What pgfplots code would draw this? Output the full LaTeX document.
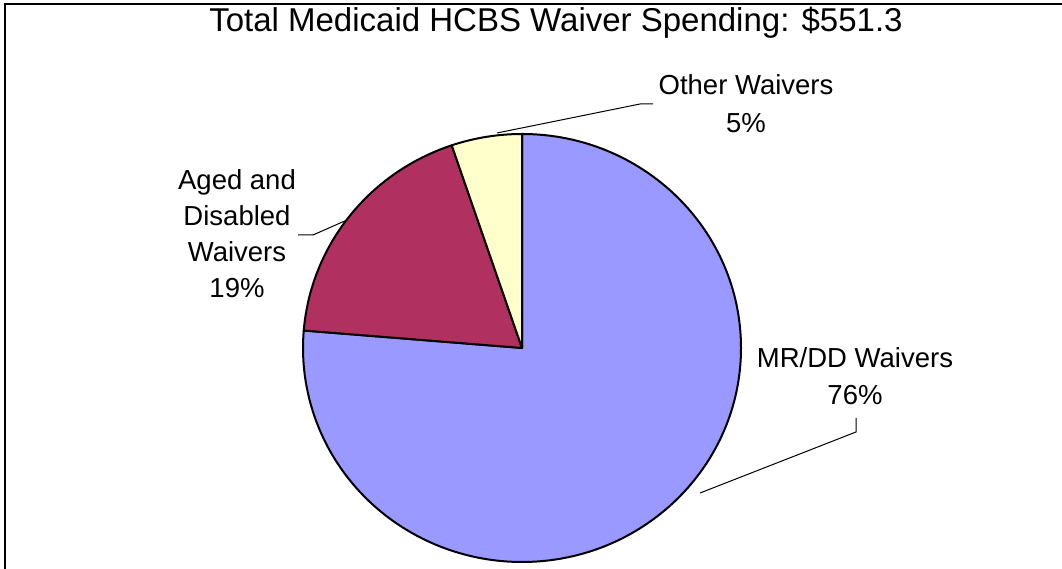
\documentclass[border=0pt]{standalone}
\usepackage{pgfplots}
\pgfplotsset{compat=1.18}
\usepackage{pgfplotstable}
\usepackage{fontspec}
\setmainfont{Liberation Sans}
\definecolor{mrdd}{HTML}{9999FF}
\definecolor{aged}{HTML}{B03060}
\definecolor{other}{HTML}{FFFFCC}

\pgfplotstableread{
label value
MRDD 76.3
Aged 18.5
Other 5.2
}\piedata

\begin{document}
\begin{tikzpicture}[x=1pt,y=1pt]
\useasboundingbox (0,0) rectangle (1062,569);
\pgfplotstablegetelem{0}{value}\of\piedata \let\va\pgfplotsretval
\pgfplotstablegetelem{1}{value}\of\piedata \let\vb\pgfplotsretval
\pgfplotstablegetelem{2}{value}\of\piedata \let\vc\pgfplotsretval
\pgfmathsetmacro\aA{90}
\pgfmathsetmacro\aB{90-3.6*\va}
\pgfmathsetmacro\aC{\aB-3.6*\vb}
\pgfmathsetmacro\aD{\aC-3.6*\vc}
\begin{axis}[scale only axis, width=1062pt, height=569pt,
  xmin=0, xmax=1062, ymin=0, ymax=569, hide axis, clip=false]
  \filldraw[fill=mrdd, draw=black, line width=2pt, line join=round]
    (axis cs:522,221) -- ++(\aA:219pt and 214pt)
    arc[start angle=\aA, end angle=\aB, x radius=219pt, y radius=214pt] -- cycle;
  \filldraw[fill=aged, draw=black, line width=2pt, line join=round]
    (axis cs:522,221) -- ++(\aB:219pt and 214pt)
    arc[start angle=\aB, end angle=\aC, x radius=219pt, y radius=214pt] -- cycle;
  \filldraw[fill=other, draw=black, line width=2pt, line join=round]
    (axis cs:522,221) -- ++(\aC:219pt and 214pt)
    arc[start angle=\aC, end angle=\aD, x radius=219pt, y radius=214pt] -- cycle;
  % leader lines
  \draw[line width=1pt] (axis cs:497,436) -- (axis cs:640,465) -- (axis cs:653,465);
  \draw[line width=1pt] (axis cs:347,349) -- (axis cs:313,334) -- (axis cs:298,334);
  \draw[line width=1pt] (axis cs:700,76) -- (axis cs:856,137) -- (axis cs:856,151);
  % labels
  \node[align=center, font={\fontsize{27.5}{38}\selectfont}] at (axis cs:746,465) {Other Waivers\\5\%};
  \node[align=center, font={\fontsize{27.5}{36}\selectfont}] at (axis cs:237,335) {Aged and\\Disabled\\Waivers\\19\%};
  \node[align=center, font={\fontsize{27.5}{37}\selectfont}] at (axis cs:855,193) {MR/DD Waivers\\76\%};
  % title
  \node[font={\fontsize{33}{38}\selectfont}] at (axis cs:556,546) {Total Medicaid HCBS Waiver Spending: \$551.3};
  % frame
  \draw[line width=1.5pt] (axis cs:5,0) -- (axis cs:5,565) -- (axis cs:1062,565);
\end{axis}
\end{tikzpicture}
\end{document}
